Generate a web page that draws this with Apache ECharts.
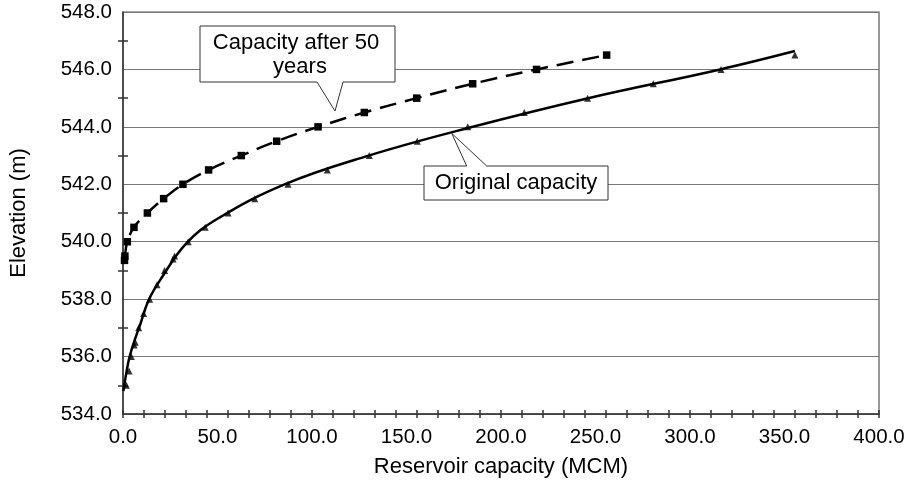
<!DOCTYPE html>
<html>
<head>
<meta charset="utf-8">
<script src="https://cdn.jsdelivr.net/npm/echarts@6/dist/echarts.min.js"></script>
<style>
  html, body { margin: 0; padding: 0; background: #fff; }
  #chart { width: 910px; height: 490px; }
</style>
</head>
<body>
<div id="chart"></div>
<script>
// original capacity survey points (MCM, m)
const origCap  = [1.8, 3.2, 4.4, 5.9, 6.5, 8.3, 10.9, 14.1, 18.0, 22.0, 26.5, 27.3, 34.5, 43.5, 55.6, 69.7, 87.3, 108.1, 130.3, 155.7, 182.4, 212.3, 245.8, 280.6, 316.4, 355.5];
const origElev = [535.0, 535.5, 536.0, 536.4, 536.5, 537.0, 537.5, 538.0, 538.5, 539.0, 539.4, 539.5, 540.0, 540.5, 541.0, 541.5, 542.0, 542.5, 543.0, 543.5, 544.0, 544.5, 545.0, 545.5, 546.0, 546.5];

// fitted curve for original capacity
const fitCap  = [0.2, 1.8, 3.5, 6.3, 9.0, 13.6, 20.0, 33.5, 50.0, 85.5, 130.0, 182.0, 245.0, 316.0, 355.5];
const fitElev = [534.8, 535.45, 536.0, 536.6, 537.1, 537.97, 538.7, 539.94, 540.8, 542.0, 543.0, 543.95, 544.98, 546.0, 546.64];

// capacity after 50 years
const sedCap  = [0.8, 1.0, 2.3, 5.8, 12.9, 21.5, 31.7, 45.3, 62.6, 81.3, 103.2, 127.7, 155.4, 185.0, 218.8, 255.9];
const sedElev = [539.35, 539.5, 540.0, 540.5, 541.0, 541.5, 542.0, 542.5, 543.0, 543.5, 544.0, 544.5, 545.0, 545.5, 546.0, 546.5];

const xMin = 0, xMax = 400, xStep = 50;
const yMin = 534, yMax = 548, yStep = 2;
const xTickCount = 36;

const pairs = (a, b) => a.map((v, i) => [v, b[i]]);
const FONT = '"Liberation Sans", Arial, sans-serif';

const chart = echarts.init(document.getElementById('chart'), null, { renderer: 'canvas' });

const tickAxisX = (inside) => ({
  type: 'value', min: xMin, max: xMax, interval: (xMax - xMin) / xTickCount,
  position: 'bottom',
  axisLine: { show: false },
  axisLabel: { show: false },
  splitLine: { show: false },
  axisTick: { show: true, inside: inside, length: 4, lineStyle: { color: '#333', width: 1.5 } }
});

const calloutText = (text, x, y) => ({
  type: 'text', z: 101, x: x, y: y,
  style: { text: text, font: '22px ' + FONT, fill: '#000', align: 'center', verticalAlign: 'middle' }
});

chart.setOption({
  animation: false,
  backgroundColor: '#fff',
  grid: {
    left: 123, right: 31, top: 12, bottom: 76,
    show: true, borderColor: '#555', borderWidth: 1.2, backgroundColor: 'transparent'
  },
  xAxis: [
    {
      type: 'value', min: xMin, max: xMax, interval: xStep,
      position: 'bottom',
      name: 'Reservoir capacity (MCM)', nameLocation: 'middle', nameGap: 42,
      nameTextStyle: { fontFamily: FONT, fontSize: 22, color: '#000' },
      axisLine: { show: true, onZero: false, lineStyle: { color: '#333', width: 1.5 } },
      axisTick: { show: false },
      axisLabel: { fontFamily: FONT, fontSize: 20.5, color: '#000', margin: 13,
        formatter: v => v.toFixed(1) },
      splitLine: { show: false }
    },
    tickAxisX(false),
    tickAxisX(true)
  ],
  yAxis: [
    {
      type: 'value', min: yMin, max: yMax, interval: yStep,
      name: 'Elevation (m)', nameLocation: 'middle', nameGap: 93,
      nameTextStyle: { fontFamily: FONT, fontSize: 22, color: '#000' },
      axisLine: { show: true, onZero: false, lineStyle: { color: '#333', width: 1.5 } },
      axisTick: { show: false },
      minorTick: { show: true, splitNumber: 2, length: 5, lineStyle: { color: '#333', width: 1.5 } },
      axisLabel: { fontFamily: FONT, fontSize: 20.5, color: '#000', margin: 11,
        formatter: v => v.toFixed(1) },
      splitLine: { show: true, lineStyle: { color: '#777', width: 1.2 } }
    },
    {
      type: 'value', min: yMin, max: yMax, interval: yStep, position: 'left',
      axisLine: { show: false },
      axisTick: { show: false, inside: true },
      minorTick: { show: true, splitNumber: 2, length: 5, lineStyle: { color: '#333', width: 1.5 } },
      axisLabel: { show: false },
      splitLine: { show: false }
    }
  ],
  series: [
    {
      name: 'Original fit', type: 'line', smooth: 0.4, showSymbol: false,
      data: pairs(fitCap, fitElev),
      lineStyle: { color: '#000', width: 2.5 }, z: 3
    },
    {
      name: 'Original capacity', type: 'scatter', symbol: 'triangle', symbolSize: 7,
      data: pairs(origCap, origElev),
      itemStyle: { color: '#000' }, z: 4
    },
    {
      name: 'Capacity after 50 years', type: 'line', smooth: 0.4,
      symbol: 'rect', symbolSize: 7.5, showAllSymbol: true,
      data: pairs(sedCap, sedElev),
      itemStyle: { color: '#000' },
      lineStyle: { color: '#000', width: 2.5, type: [17, 9] }, z: 4
    }
  ],
  graphic: [
    {
      type: 'polygon', z: 100,
      shape: { points: [[200, 26], [395, 26], [395, 82], [343, 82], [335, 111], [317, 82], [200, 82]] },
      style: { fill: '#fff', stroke: '#333', lineWidth: 1 }
    },
    calloutText('Capacity after 50', 296, 43),
    calloutText('years', 300, 67),
    {
      type: 'polygon', z: 100,
      shape: { points: [[424, 166], [466.7, 166], [451.7, 133.3], [486.7, 166], [608, 166], [608, 200], [424, 200]] },
      style: { fill: '#fff', stroke: '#333', lineWidth: 1 }
    },
    calloutText('Original capacity', 516, 183)
  ]
});
</script>
</body>
</html>
